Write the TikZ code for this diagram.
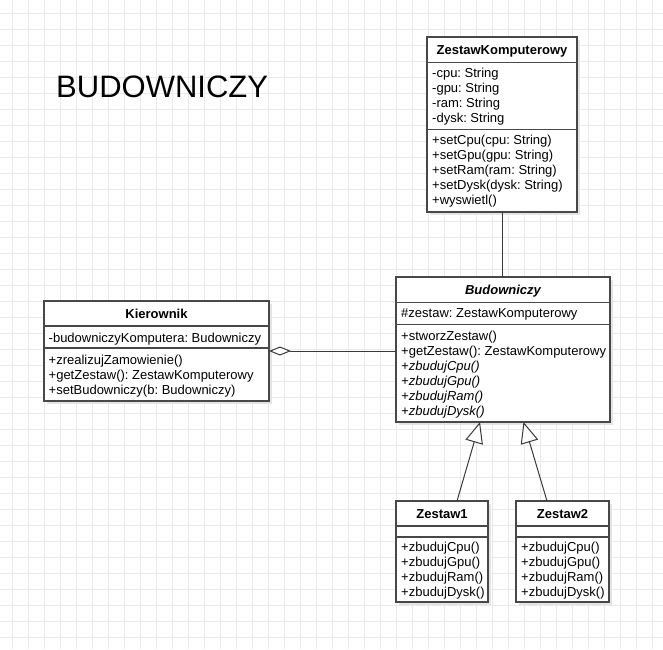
\documentclass[tikz,border=0pt]{standalone}
\usepackage{fontspec}
\setmainfont{Liberation Sans}
\usetikzlibrary{arrows.meta,calc}
\frenchspacing
\definecolor{gridc}{HTML}{E9E9E9}
\definecolor{boxc}{HTML}{484848}
\definecolor{linec}{HTML}{3A3A3A}
\definecolor{shadc}{HTML}{E4E4E4}
\tikzset{
 box/.style={draw=boxc, line width=1.3pt, fill=white, inner sep=0pt, outer sep=0pt, anchor=north west},
 shadowbox/.style={fill=shadc},
 txt/.style={anchor=west, inner sep=0pt, text height=12pt, text depth=2.6pt, font=\fontsize{13}{15}\selectfont},
 head/.style={anchor=center, inner sep=0pt, text height=12pt, text depth=2.6pt, font=\fontsize{13}{15}\selectfont\bfseries},
 sepline/.style={draw=boxc, line width=1.3pt},
 conn/.style={draw=linec, line width=1pt},
 inh/.style={conn, -{Triangle[open, length=21pt, width=18pt, fill=white]}},
 agg/.style={conn, {Diamond[open, length=22pt, width=9pt, fill=white]}-},
 gridline/.style={draw=gridc, line width=0.8pt},
}
\begin{document}
\begin{tikzpicture}[x=1pt,y=-1pt]
\useasboundingbox (0,0) rectangle (663,649);
\fill[white] (0,0) rectangle (663,649);
% grid
\foreach \i in {0,...,40} \draw[gridline] (12.7+16*\i,0) -- (12.7+16*\i,649);
\foreach \j in {0,...,39} \draw[gridline] (0,13.3+16*\j) -- (663,13.3+16*\j);

% title
\node[anchor=base west, inner sep=0pt, font=\fontsize{31}{37}\selectfont] (title) at (56,97.7) {BUDOWNICZY};

% ZestawKomputerowy
\fill[shadowbox] (430,40) rectangle ++(150,175);
\node[box, minimum width=150pt, minimum height=175pt] (zk) at (427,37) {};
\draw[sepline] (427,62.5) -- (577,62.5);
\draw[sepline] (427,129.5) -- (577,129.5);
\node[head] (zkh) at (502,50) {ZestawKomputerowy};
\foreach \t [count=\i from 0] in {-cpu: String,-gpu: String,-ram: String,-dysk: String}
  \node[txt] (zka\i) at (432,72.7+15*\i) {\t};
\foreach \t [count=\i from 0] in {+setCpu(cpu: String),+setGpu(gpu: String),+setRam(ram: String),+setDysk(dysk: String),+wyswietl()}
  \node[txt] (zkm\i) at (432,140+15*\i) {\t};

% Budowniczy
\fill[shadowbox] (399,280) rectangle ++(214,145);
\node[box, minimum width=214pt, minimum height=145pt] (bud) at (396,277) {};
\draw[sepline] (396,302.5) -- (610,302.5);
\draw[sepline] (396,324.5) -- (610,324.5);
\node[head, font=\fontsize{13}{15}\selectfont\bfseries\itshape] (budh) at (503,290) {Budowniczy};
\node[txt] (buda0) at (401,313) {\#zestaw: ZestawKomputerowy};
\foreach \t [count=\i from 0] in {+stworzZestaw(),+getZestaw(): ZestawKomputerowy,{\itshape +zbudujCpu()},{\itshape +zbudujGpu()},{\itshape +zbudujRam()},{\itshape +zbudujDysk()}}
  \node[txt] (budm\i) at (401,336+15*\i) {\t};

% Kierownik
\fill[shadowbox] (47,304) rectangle ++(225,100);
\node[box, minimum width=225pt, minimum height=100pt] (kier) at (44,301) {};
\draw[sepline] (44,326) -- (269,326);
\draw[sepline] (44,348) -- (269,348);
\node[head] (kierh) at (156.5,313.5) {Kierownik};
\node[txt] (kiera0) at (48.5,337.5) {-budowniczyKomputera: Budowniczy};
\foreach \t [count=\i from 0] in {+zrealizujZamowienie(),+getZestaw(): ZestawKomputerowy,+setBudowniczy(b: Budowniczy)}
  \node[txt] (kierm\i) at (48.5,360+15*\i) {\t};

% Zestaw1
\fill[shadowbox] (399,504) rectangle ++(92,101);
\node[box, minimum width=92pt, minimum height=101pt] (z1) at (396,501) {};
\draw[sepline] (396,526) -- (488,526);
\draw[sepline] (396,537) -- (488,537);
\node[head] (z1h) at (442,513.5) {Zestaw1};
\foreach \t [count=\i from 0] in {+zbudujCpu(),+zbudujGpu(),+zbudujRam(),+zbudujDysk()}
  \node[txt] (z1m\i) at (401,547+15*\i) {\t};

% Zestaw2
\fill[shadowbox] (519,504) rectangle ++(93,101);
\node[box, minimum width=93pt, minimum height=101pt] (z2) at (516,501) {};
\draw[sepline] (516,526) -- (609,526);
\draw[sepline] (516,537) -- (609,537);
\node[head] (z2h) at (562.5,513.5) {Zestaw2};
\foreach \t [count=\i from 0] in {+zbudujCpu(),+zbudujGpu(),+zbudujRam(),+zbudujDysk()}
  \node[txt] (z2m\i) at (521,547+15*\i) {\t};

% connectors
\draw[conn] (zk.south) -- (zk.south |- bud.north);
\draw[agg] (kier.east) -- (kier.east -| bud.west);
\draw[inh] ($(z1.north)+(15,0)$) -- ($(bud.south)+(-23,0)$);
\draw[inh] ($(z2.north)+(-15.5,0)$) -- ($(bud.south)+(20.5,0)$);
\end{tikzpicture}
\end{document}
